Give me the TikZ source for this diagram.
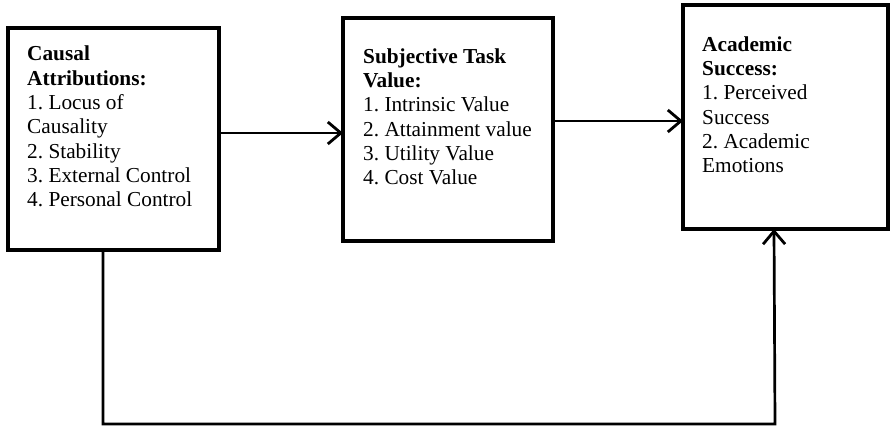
\documentclass[tikz,border=0pt]{standalone}
\usepackage{fontspec}
\setmainfont{Liberation Serif}
\usetikzlibrary{arrows.meta}
\frenchspacing
\begin{document}
\begin{tikzpicture}[x=1pt,y=-1pt,
  boxline/.style={line width=3.4pt,line join=miter},
  conn/.style={line width=2.7pt},
  arr/.style={conn,-{Straight Barb[length=13pt,width=22pt,line width=2.8pt]}},
  txt/.style={anchor=north west,align=left,inner sep=0pt,font=\fontsize{21.3}{24.3}\selectfont}]
\useasboundingbox (0,0) rectangle (891,428);
\draw[boxline] (8,28) rectangle (219,250);
\draw[boxline] (343,18) rectangle (553,241);
\draw[boxline] (683,5) rectangle (888,229);
\coordinate (b1e) at (219,133);
\coordinate (b2w) at (343,133);
\coordinate (b2e) at (553,121);
\coordinate (b3w) at (683,121);
\coordinate (b1s) at (103,250);
\coordinate (b3s) at (774,229);
\node[txt] (t1) at (27,60.5-14.6) {\textbf{Causal}\\\textbf{Attributions:}\\1. Locus of\\Causality\\2. Stability\\3. External Control\\4. Personal Control};
\node[txt] (t2) at (363,63-14.6) {\textbf{Subjective Task}\\\textbf{Value:}\\1. Intrinsic Value\\2. Attainment value\\3. Utility Value\\4. Cost Value};
\node[txt] (t3) at (702,51-14.6) {\textbf{Academic}\\\textbf{Success:}\\1. Perceived\\Success\\2. Academic\\Emotions};
\draw[arr] (b1e) -- (b2w);
\draw[arr] (b2e) -- (b3w);
\draw[arr] (b1s) -- (103,424) -- (775,424) -- (b3s);
\end{tikzpicture}
\end{document}
